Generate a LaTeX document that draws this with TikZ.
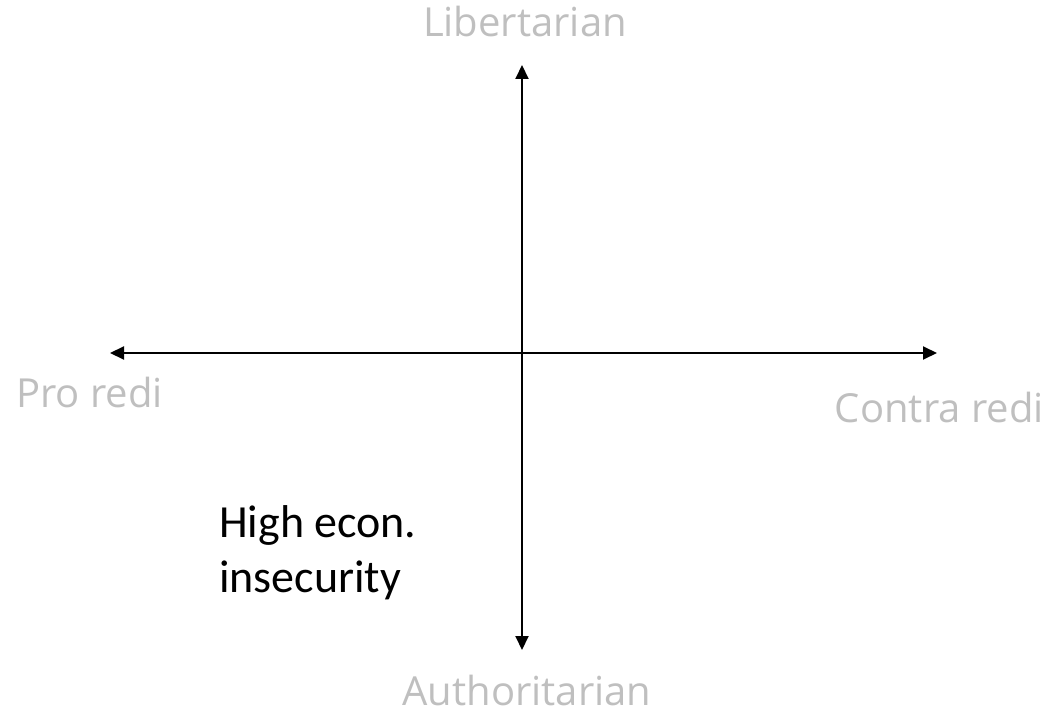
\documentclass[tikz,border=0pt]{standalone}
\usepackage{fontspec}
\setmainfont{Carlito}
\newfontfamily\polefont{Open Sans}
\usetikzlibrary{arrows.meta}
\definecolor{axgray}{HTML}{BFBFBF}
\tikzset{
  axis/.style={line width=2pt, {Triangle[length=14pt,width=13pt]}-{Triangle[length=14pt,width=13pt]}},
  pole/.style={text=axgray, font=\polefont\fontsize{40}{48}\selectfont, inner sep=0pt, anchor=base},
  note/.style={text=black, font=\fontsize{46}{55}\selectfont, inner sep=0pt, anchor=base west, align=left}
}
\begin{document}
\begin{tikzpicture}[x=1pt,y=-1pt]
\useasboundingbox (0,0) rectangle (1053,714);
\coordinate (top) at (522,65);
\coordinate (bottom) at (522,650);
\coordinate (left) at (110,353);
\coordinate (right) at (937,353);
\draw[axis] (bottom) -- (top);
\draw[axis] (left) -- (right);
\node[pole] (lib) at (525,37) {Libertarian};
\node[pole] (auth) at (527,705) {Authoritarian};
\node[pole, anchor=base west] (pro) at (16,407) {Pro redi};
\node[pole, anchor=base east] (contra) at (1044,422) {Contra redi};
\node[note] (hei) at (219,537) {High econ.};
\node[note] (ins) at (219,592) {insecurity};
\end{tikzpicture}
\end{document}
